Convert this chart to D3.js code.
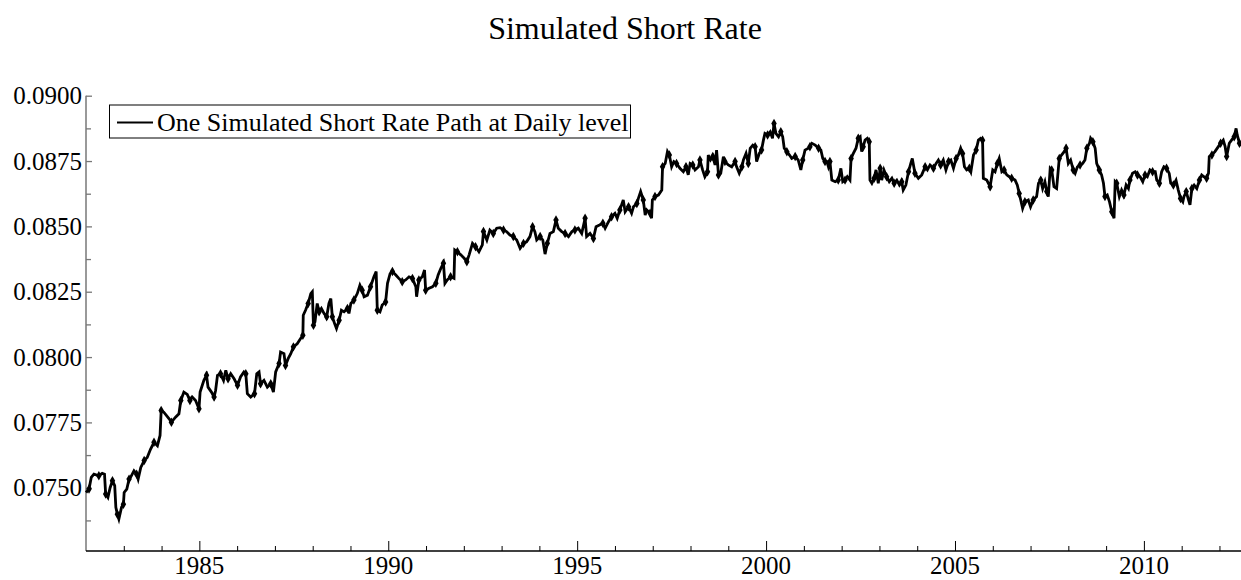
<!DOCTYPE html>
<html>
<head>
<meta charset="utf-8">
<script src="https://cdn.jsdelivr.net/npm/d3@7"></script>
<style>
  html, body { margin: 0; padding: 0; background: #fff; }
  svg { display: block; }
  text { font-family: "Liberation Serif", "Times New Roman", serif; fill: #000; }
</style>
</head>
<body>
<svg id="chart" width="1241" height="580"></svg>
<script>
const titleText = "Simulated Short Rate";
const seriesName = "One Simulated Short Rate Path at Daily level";

const years = [
1982.00,1982.08,1982.14,1982.21,1982.34,1982.43,1982.49,1982.52,1982.58,1982.64,1982.70,1982.76,1982.79,1982.83,1982.87,1982.94,1982.99,1983.01,1983.08,1983.14,
1983.18,1983.27,1983.34,1983.38,1983.45,1983.54,1983.62,1983.71,1983.80,1983.89,1983.96,1983.99,1984.06,1984.20,1984.26,1984.37,1984.46,1984.51,1984.59,1984.68,
1984.75,1984.81,1984.90,1984.99,1985.02,1985.12,1985.19,1985.23,1985.32,1985.39,1985.43,1985.48,1985.56,1985.64,1985.70,1985.76,1985.83,1985.92,1986.01,1986.09,
1986.18,1986.23,1986.27,1986.36,1986.46,1986.52,1986.58,1986.62,1986.71,1986.80,1986.89,1986.96,1987.02,1987.11,1987.15,1987.24,1987.28,1987.35,1987.42,1987.49,
1987.59,1987.68,1987.74,1987.75,1987.81,1987.88,1987.95,1987.99,1988.02,1988.06,1988.12,1988.17,1988.23,1988.30,1988.37,1988.43,1988.48,1988.52,1988.58,1988.63,
1988.70,1988.76,1988.83,1988.92,1988.96,1989.01,1989.09,1989.18,1989.25,1989.31,1989.36,1989.45,1989.53,1989.62,1989.68,1989.71,1989.78,1989.84,1989.93,1989.98,
1990.05,1990.11,1990.20,1990.28,1990.37,1990.46,1990.55,1990.64,1990.73,1990.75,1990.81,1990.90,1990.96,1990.99,1991.08,1991.17,1991.26,1991.32,1991.39,1991.46,
1991.50,1991.56,1991.65,1991.74,1991.76,1991.83,1991.92,1992.01,1992.08,1992.14,1992.23,1992.31,1992.40,1992.49,
1992.52,1992.61,1992.69,1992.78,1992.87,1992.96,1993.05,1993.13,1993.22,1993.31,1993.40,1993.49,1993.58,1993.66,1993.75,1993.82,1993.88,1993.93,1994.02,1994.09,
1994.15,1994.21,1994.28,1994.37,1994.44,1994.50,1994.59,1994.68,1994.77,1994.86,1994.94,1995.03,1995.12,1995.21,1995.25,1995.34,1995.43,1995.50,1995.59,1995.68,
1995.74,1995.83,1995.91,1996.00,1996.06,1996.13,1996.22,1996.27,1996.36,1996.44,1996.49,1996.58,1996.62,1996.68,1996.75,1996.80,1996.84,1996.93,1996.97,1996.99,
1997.06,1997.15,1997.24,1997.26,1997.33,1997.39,1997.44,1997.50,1997.56,1997.63,1997.72,1997.81,1997.88,1997.94,1997.99,1998.06,1998.12,1998.21,1998.25,1998.32,
1998.38,1998.45,1998.47,1998.53,1998.59,1998.65,1998.69,1998.74,1998.80,1998.87,1998.91,1999.00,1999.09,1999.18,1999.22,1999.29,1999.36,1999.40,1999.47,1999.53,
1999.58,1999.65,1999.71,1999.75,1999.82,1999.88,1999.93,1999.97,2000.04,2000.11,2000.17,2000.21,2000.26,2000.33,2000.39,2000.44,2000.48,2000.55,2000.62,2000.68,
2000.77,2000.85,2000.92,2000.97,2001.03,2001.12,2001.16,2001.21,2001.30,2001.39,2001.45,2001.50,2001.56,2001.61,2001.65,2001.69,2001.74,2001.83,2001.91,2001.98,
2002.03,2002.09,2002.15,2002.22,2002.25,2002.31,2002.38,2002.44,2002.49,
2002.53,2002.57,2002.62,2002.68,2002.73,2002.75,2002.80,2002.86,2002.91,2002.97,2003.02,2003.06,2003.12,2003.19,2003.26,2003.33,2003.39,2003.46,2003.53,2003.59,
2003.63,2003.70,2003.77,2003.83,2003.87,2003.94,2004.03,2004.12,2004.21,2004.27,2004.34,2004.43,2004.50,2004.56,2004.62,2004.69,2004.76,2004.83,2004.89,2004.96,
2005.03,2005.09,2005.15,2005.20,2005.25,2005.31,2005.38,2005.42,2005.49,2005.56,2005.62,2005.68,2005.73,2005.75,2005.84,2005.93,2006.00,2006.06,2006.12,2006.17,
2006.24,2006.30,2006.37,2006.44,2006.50,2006.59,2006.65,2006.70,2006.74,2006.79,2006.85,2006.94,2007.00,2007.07,2007.16,2007.21,2007.27,2007.32,2007.38,2007.43,
2007.47,2007.52,2007.56,2007.62,2007.69,2007.76,2007.82,2007.89,2007.94,2008.00,2008.06,2008.13,2008.18,2008.24,2008.31,2008.38,2008.44,2008.49,2008.56,2008.59,
2008.65,2008.71,2008.75,2008.82,2008.88,2008.93,2008.97,2009.03,2009.09,2009.15,2009.21,2009.24,2009.28,2009.35,2009.41,2009.47,2009.53,2009.59,2009.63,2009.70,
2009.77,2009.83,2009.90,2009.97,2010.03,2010.09,2010.16,2010.23,2010.30,2010.34,2010.41,2010.47,2010.53,2010.60,2010.67,2010.71,2010.78,2010.85,2010.91,2010.97,
2011.03,2011.06,2011.12,2011.18,2011.22,2011.27,2011.33,2011.40,2011.47,2011.53,2011.59,2011.66,2011.71,2011.73,2011.80,2011.88,2011.97,2012.03,2012.10,2012.15,
2012.19,2012.26,2012.32,2012.39,2012.44,2012.47,2012.53,2012.57
];

const rates = [
0.07482,0.07495,0.07540,0.07552,0.07546,0.07555,0.07552,0.07476,0.07463,0.07501,0.07527,0.07508,0.07425,0.07399,0.07380,0.07425,0.07437,0.07482,0.07495,0.07533,
0.07540,0.07565,0.07552,0.07533,0.07578,0.07604,0.07616,0.07648,0.07674,0.07661,0.07700,0.07796,0.07789,0.07764,0.07751,0.07770,0.07783,0.07834,0.07866,0.07857,
0.07834,0.07847,0.07834,0.07802,0.07866,0.07911,0.07930,0.07885,0.07866,0.07847,0.07872,0.07930,0.07936,0.07911,0.07949,0.07917,0.07936,0.07917,0.07892,0.07924,
0.07943,0.07936,0.07860,0.07847,0.07860,0.07936,0.07943,0.07898,0.07911,0.07885,0.07898,0.07866,0.07943,0.07975,0.08019,0.08013,0.07968,0.07994,0.08013,0.08039,
0.08051,0.08071,0.08083,0.08160,0.08179,0.08205,0.08243,0.08250,0.08122,0.08135,0.08205,0.08173,0.08186,0.08167,0.08154,0.08205,0.08224,0.08154,0.08128,0.08109,
0.08141,0.08179,0.08173,0.08186,0.08167,0.08205,0.08218,0.08243,0.08275,0.08256,0.08231,0.08237,0.08269,0.08307,0.08327,0.08179,0.08173,0.08199,0.08211,0.08282,
0.08320,0.08327,0.08314,0.08301,0.08288,0.08295,0.08307,0.08301,0.08269,0.08231,0.08295,0.08307,0.08333,0.08256,0.08263,0.08269,0.08282,0.08314,0.08339,0.08359,
0.08282,0.08295,0.08307,0.08301,0.08410,0.08403,0.08391,0.08378,0.08365,0.08391,0.08435,0.08422,0.08403,0.08429,
0.08480,0.08448,0.08486,0.08473,0.08493,0.08495,0.08486,0.08480,0.08467,0.08461,0.08448,0.08416,0.08435,0.08441,0.08461,0.08499,0.08480,0.08448,0.08461,0.08448,
0.08394,0.08435,0.08473,0.08480,0.08524,0.08493,0.08480,0.08473,0.08461,0.08480,0.08486,0.08493,0.08473,0.08531,0.08461,0.08473,0.08454,0.08499,0.08505,0.08512,
0.08493,0.08518,0.08537,0.08550,0.08531,0.08563,0.08601,0.08556,0.08575,0.08550,0.08575,0.08588,0.08607,0.08633,0.08601,0.08543,0.08563,0.08550,0.08531,0.08601,
0.08614,0.08620,0.08639,0.08728,0.08741,0.08786,0.08773,0.08728,0.08748,0.08741,0.08722,0.08709,0.08728,0.08697,0.08741,0.08735,0.08716,0.08728,0.08754,0.08716,
0.08690,0.08709,0.08773,0.08754,0.08767,0.08735,0.08792,0.08697,0.08703,0.08767,0.08748,0.08735,0.08728,0.08748,0.08728,0.08703,0.08728,0.08754,0.08779,0.08741,
0.08799,0.08811,0.08805,0.08748,0.08779,0.08792,0.08830,0.08856,0.08850,0.08862,0.08837,0.08894,0.08856,0.08843,0.08862,0.08843,0.08799,0.08786,0.08773,0.08760,
0.08767,0.08754,0.08716,0.08754,0.08792,0.08799,0.08805,0.08818,0.08811,0.08799,0.08792,0.08760,0.08748,0.08748,0.08728,0.08748,0.08677,0.08671,0.08677,0.08722,
0.08671,0.08677,0.08690,0.08677,0.08760,0.08779,0.08799,0.08837,0.08843,
0.08786,0.08805,0.08830,0.08837,0.08824,0.08677,0.08665,0.08684,0.08716,0.08665,0.08722,0.08677,0.08716,0.08690,0.08671,0.08684,0.08665,0.08677,0.08658,0.08671,
0.08639,0.08658,0.08709,0.08741,0.08760,0.08703,0.08684,0.08697,0.08728,0.08716,0.08735,0.08722,0.08741,0.08754,0.08735,0.08754,0.08716,0.08748,0.08754,0.08722,
0.08760,0.08773,0.08799,0.08779,0.08728,0.08716,0.08722,0.08709,0.08773,0.08792,0.08830,0.08837,0.08830,0.08684,0.08677,0.08652,0.08716,0.08709,0.08741,0.08760,
0.08709,0.08716,0.08697,0.08690,0.08684,0.08677,0.08658,0.08626,0.08601,0.08569,0.08594,0.08601,0.08575,0.08601,0.08614,0.08665,0.08677,0.08645,0.08671,0.08633,
0.08614,0.08722,0.08716,0.08652,0.08645,0.08760,0.08773,0.08786,0.08799,0.08741,0.08754,0.08716,0.08703,0.08728,0.08735,0.08741,0.08754,0.08799,0.08818,0.08837,
0.08824,0.08799,0.08741,0.08716,0.08697,0.08665,0.08614,0.08620,0.08594,0.08556,0.08531,0.08671,0.08665,0.08614,0.08639,0.08620,0.08658,0.08645,0.08677,0.08703,
0.08709,0.08697,0.08690,0.08671,0.08697,0.08690,0.08716,0.08709,0.08709,0.08677,0.08665,0.08709,0.08728,0.08722,0.08703,0.08665,0.08658,0.08677,0.08639,0.08607,
0.08594,0.08614,0.08633,0.08601,0.08582,0.08645,0.08658,0.08645,0.08677,0.08697,0.08690,0.08684,0.08703,0.08767,0.08773,0.08786,0.08805,0.08818,0.08830,0.08805,
0.08767,0.08818,0.08830,0.08843,0.08875,0.08850,0.08818,0.08811
];

const yMajorTicks = [0.0750, 0.0775, 0.0800, 0.0825, 0.0850, 0.0875, 0.0900];
const yMinorTicks = [0.07375, 0.07625, 0.07875, 0.08125, 0.08375, 0.08625, 0.08875];
const xMajorTicks = [1985, 1990, 1995, 2000, 2005, 2010];
const xMinorTicks = [1983,1984,1986,1987,1988,1989,1991,1992,1993,1994,1996,1997,1998,1999,2001,2002,2003,2004,2006,2007,2008,2009,2011,2012];
const xDomain = [1982, 2012.57];
const yDomain = [0.07258, 0.0900];

const data = years.map((yr, i) => ({ x: yr, v: rates[i] }));

const svg = d3.select("#chart");
const plotLeft = 86, plotRight = 1241, plotTop = 95.7, plotBottom = 551;

const x = d3.scaleLinear().domain(xDomain).range([plotLeft, plotRight]);
const y = d3.scaleLinear().domain(yDomain).range([plotBottom, plotTop]);

// Title
svg.append("text")
  .attr("x", 625).attr("y", 39)
  .attr("text-anchor", "middle")
  .style("font-size", "32px")
  .text(titleText);

// Y axis
const yAxisG = svg.append("g").attr("transform", `translate(${plotLeft},0)`);
yAxisG.call(d3.axisRight(y).tickValues(yMajorTicks).tickSize(6).tickFormat(() => ""));
yAxisG.select(".domain").remove();
yAxisG.selectAll(".tick line").attr("stroke", "#777").attr("stroke-width", 1.3);
const yMinorG = svg.append("g").attr("transform", `translate(${plotLeft},0)`);
yMinorG.call(d3.axisRight(y).tickValues(yMinorTicks).tickSize(5).tickFormat(() => ""));
yMinorG.select(".domain").remove();
yMinorG.selectAll(".tick line").attr("stroke", "#777").attr("stroke-width", 1.3);
svg.append("line").attr("x1", plotLeft).attr("x2", plotLeft).attr("y1", plotTop).attr("y2", plotBottom)
  .attr("stroke", "#777").attr("stroke-width", 1.5);
svg.append("g").selectAll("text").data(yMajorTicks).join("text")
  .attr("x", plotLeft - 4).attr("y", d => y(d)).attr("dy", "0.35em")
  .attr("text-anchor", "end").style("font-size", "25px")
  .text(d => d3.format(".4f")(d));

// X axis
const xAxisG = svg.append("g").attr("transform", `translate(0,${plotBottom})`);
xAxisG.call(d3.axisTop(x).tickValues(xMajorTicks).tickSize(10).tickFormat(() => ""));
xAxisG.select(".domain").remove();
xAxisG.selectAll(".tick line").attr("stroke", "#000").attr("stroke-width", 1);
const xMinorG = svg.append("g").attr("transform", `translate(0,${plotBottom})`);
xMinorG.call(d3.axisTop(x).tickValues(xMinorTicks).tickSize(5).tickFormat(() => ""));
xMinorG.select(".domain").remove();
xMinorG.selectAll(".tick line").attr("stroke", "#000").attr("stroke-width", 1);
svg.append("line").attr("x1", plotLeft).attr("x2", plotRight).attr("y1", plotBottom).attr("y2", plotBottom)
  .attr("stroke", "#000").attr("stroke-width", 1.5);
svg.append("g").selectAll("text").data(xMajorTicks).join("text")
  .attr("x", d => x(d)).attr("y", 574)
  .attr("text-anchor", "middle").style("font-size", "25px")
  .text(d => d);

// Line
const line = d3.line().x(d => x(d.x)).y(d => y(d.v));
svg.append("path").datum(data)
  .attr("fill", "none").attr("stroke", "#000").attr("stroke-width", 2.8)
  .attr("stroke-linejoin", "miter").attr("d", line);

// diamond markers along path
const diamond = d3.symbol().type(d3.symbolDiamond).size(26);
svg.append("g").selectAll("path").data(data.filter((d, i) => i % 3 === 1)).join("path")
  .attr("transform", d => `translate(${x(d.x)},${y(d.v)})`)
  .attr("d", diamond).attr("fill", "#000");

// Legend
const lg = svg.append("g");
lg.append("rect").attr("x", 109.5).attr("y", 105).attr("width", 521).attr("height", 33)
  .attr("fill", "#fff").attr("stroke", "#000").attr("stroke-width", 1);
lg.append("line").attr("x1", 117).attr("x2", 153).attr("y1", 122.5).attr("y2", 122.5)
  .attr("stroke", "#000").attr("stroke-width", 2);
lg.append("text").attr("x", 157).attr("y", 122).attr("dy", "0.35em")
  .style("font-size", "26px").text(seriesName);
</script>
</body>
</html>
